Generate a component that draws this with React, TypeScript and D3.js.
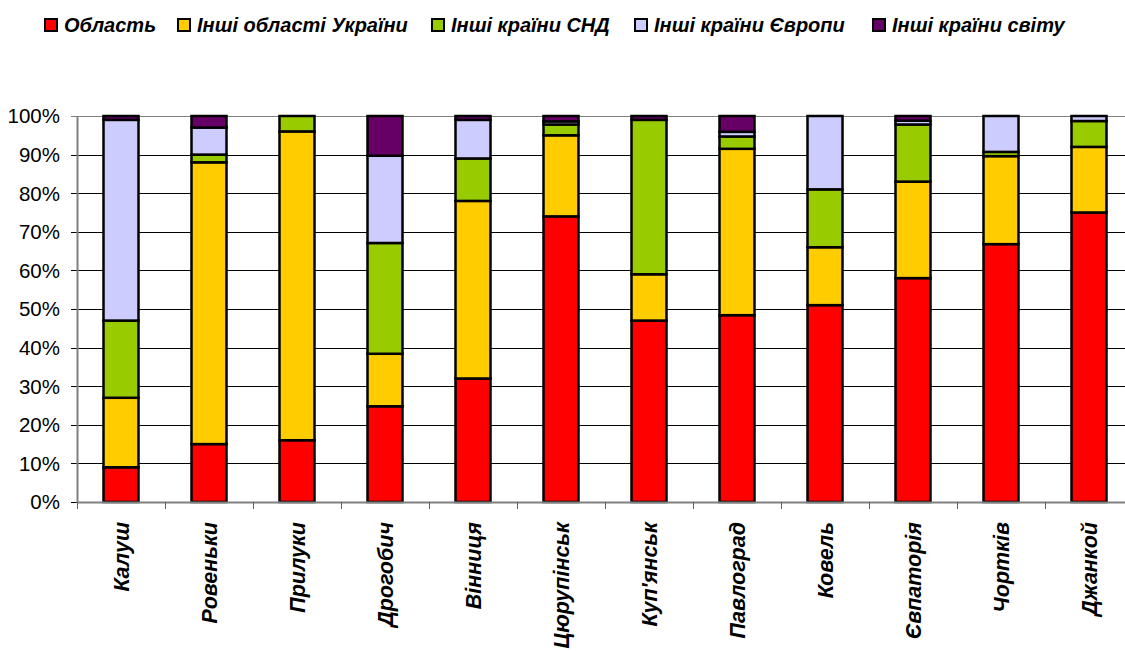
import React from 'react';
import * as d3 from 'd3';

const cities = ['Калуш', 'Ровеньки', 'Прилуки', 'Дрогобич', 'Вінниця', 'Цюрупінськ', "Куп'янськ", 'Павлоград', 'Ковель', 'Євпаторія', 'Чортків', 'Джанкой'];

const seriesNames = ['Область', 'Інші області України', 'Інші країни СНД', 'Інші країни Європи', 'Інші країни світу'];
const seriesColors = ['#FF0000', '#FFCC00', '#99CC00', '#CCCCFF', '#660066'];

const oblast = [9, 15, 16, 24.8, 32, 74, 47, 48.4, 51, 58, 66.8, 75];
const otherUkraine = [18, 73, 80, 13.6, 46, 21, 12, 43.1, 15, 25, 22.8, 17];
const otherCis = [20, 2, 4, 28.7, 11, 2.8, 40, 3.2, 15, 14.8, 1.1, 6.7];
const otherEurope = [52, 7, 0, 22.6, 10, 0.8, 0, 1.2, 19, 1, 9.3, 1.3];
const otherWorld = [1, 3, 0, 10.3, 1, 1.4, 1, 4.1, 0, 1.2, 0, 0];

const yTicks = [0, 10, 20, 30, 40, 50, 60, 70, 80, 90, 100];

// legend square positions
const legendX = [44, 177, 431, 634, 872];

const W = 1125;
const H = 651;
const margin = { top: 116, left: 77, bottom: 502 };
const step = 88;
const barW = 35;

const App: React.FC = () => {
  const rows = cities.map((c, i) => ({
    city: c,
    s0: oblast[i],
    s1: otherUkraine[i],
    s2: otherCis[i],
    s3: otherEurope[i],
    s4: otherWorld[i],
  }));
  const keys = ['s0', 's1', 's2', 's3', 's4'];
  const stacked = d3.stack<any>().keys(keys).offset(d3.stackOffsetExpand)(rows);

  const x = d3.scaleBand<string>()
    .domain(cities)
    .range([margin.left, margin.left + step * cities.length])
    .padding(0);

  const y = d3.scaleLinear().domain([0, 1]).range([margin.bottom, margin.top]);

  const font = '"Liberation Sans", Arial, sans-serif';
  const right = margin.left + step * cities.length;

  return (
    <div style={{ position: 'absolute', left: 0, top: 0 }}>
      <svg width={W} height={H} style={{ display: 'block', background: '#fff' }}>
        {/* legend */}
        <g fontFamily={font} fontWeight="bold" fontStyle="italic" fontSize={20}>
          {seriesNames.map((n, i) => (
            <g key={n}>
              <rect x={legendX[i] + 1} y={19} width={12} height={12} fill={seriesColors[i]} stroke="#000" strokeWidth={2} />
              <text x={legendX[i] + 20} y={32}>{n}</text>
            </g>
          ))}
        </g>

        {/* gridlines */}
        <g>
          {yTicks.map(t => (
            <line key={t} x1={margin.left - 6} x2={right} y1={Math.round(y(t / 100)) + 0.5} y2={Math.round(y(t / 100)) + 0.5} stroke={t === 100 ? '#808080' : '#000'} strokeWidth={1} />
          ))}
        </g>

        {/* y labels */}
        <g fontFamily={font} fontSize={20.5} textAnchor="end">
          {yTicks.map(t => (
            <text key={t} x={60} y={y(t / 100)} dy="0.36em">{t}%</text>
          ))}
        </g>

        {/* bars */}
        {stacked.map((layer, li) => (
          <g key={li} fill={seriesColors[li]} stroke="#000" strokeWidth={2.5}>
            {layer.map((d, i) => {
              if (d[1] - d[0] <= 0) return null;
              return (
                <rect
                  key={i}
                  x={(x(cities[i]) as number) + (step - barW) / 2}
                  y={y(d[1])}
                  width={barW}
                  height={y(d[0]) - y(d[1])}
                />
              );
            })}
          </g>
        ))}

        {/* axes */}
        <line x1={margin.left + 0.5} x2={margin.left + 0.5} y1={margin.top} y2={margin.bottom + 1} stroke="#808080" strokeWidth={2} />
        <line x1={margin.left} x2={right} y1={margin.bottom + 0.5} y2={margin.bottom + 0.5} stroke="#808080" strokeWidth={2} />
        {d3.range(cities.length + 1).map(i => (
          <line key={i} x1={margin.left + i * step + 0.5} x2={margin.left + i * step + 0.5} y1={margin.bottom} y2={margin.bottom + 7} stroke="#606060" strokeWidth={1} />
        ))}

        {/* x labels */}
        <g fontFamily={font} fontWeight="bold" fontStyle="italic" fontSize={21.5} textAnchor="end">
          {cities.map(c => {
            const cx = (x(c) as number) + step / 2;
            return (
              <text key={c} transform={`translate(${cx},522) rotate(-90)`} dy="0.36em">{c}</text>
            );
          })}
        </g>
      </svg>
    </div>
  );
};

export default App;
